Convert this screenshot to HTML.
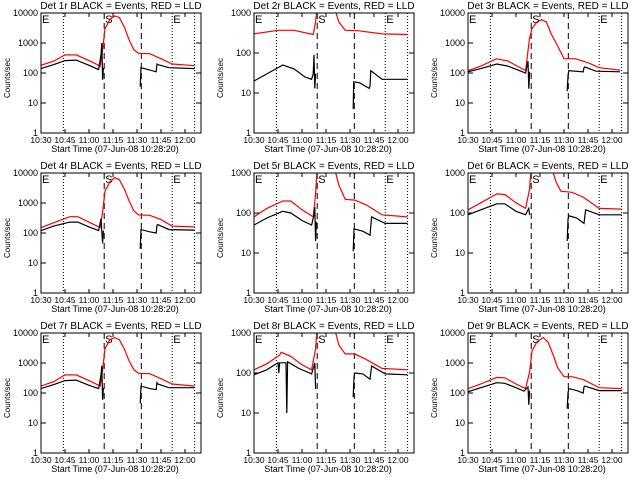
<!DOCTYPE html>
<html><head><meta charset="utf-8"><style>
html,body{margin:0;padding:0;background:#fff;}
svg{display:block;font-family:"Liberation Sans",sans-serif;}
</style></head><body>
<svg id="chart" width="640" height="480" viewBox="0 0 640 480"></svg>
<script>
// x in minutes after 10:30; y values counts/sec; null breaks line
const xTickLabels = ["10:30","10:45","11:00","11:15","11:30","11:45","12:00"];
const xTickMins = [0,15,30,45,60,75,90];
const dottedMins = [14,82,96];
const dashedMins = [39.5,62.7];
const detNames = ["1r","2r","3r","4r","5r","6r","7r","8r","9r"];
const topDecades = [4,3,4,4,3,3,4,3,4];

const red1T=[0,8,15,22,30,37,38.5,40,43,46,49,52,55,58,61,68,75,82,96];
const red1V=[180,250,400,400,260,170,600,3000,6000,8000,7000,3500,1300,600,450,440,300,200,175];
const blk1T=[0,8,15,22,30,36,37.5,38,38.5,39,null,62,62.5,68,72,72.5,73,80,96];
const blk1V=[140,190,260,270,180,130,400,1000,60,150,null,35,150,125,110,200,190,150,140];

const red2T=[0,15,25,37,38.5,39.5,null,50,53,57,65,80,96];
const red2V=[300,370,370,290,600,1500,null,1500,600,370,360,300,290];
const blk2T=[0,8,18,25,32,36,37,37.5,38,38.5,null,62,62.3,66,72,72.5,73,80,96];
const blk2V=[20,30,50,40,25,22,30,90,13,30,null,4,19,18,13,15,36,22,22];

const red3T=[0,8,18,25,36,38.5,40,43,46,49,52,56,60,67,75,82,95];
const red3V=[120,170,300,250,120,1500,3000,5000,6000,5000,2000,800,300,300,220,150,125];
const blk3T=[0,8,18,25,36,37.5,38,38.5,null,62,62.5,63,72,72.5,73,80,95];
const blk3V=[110,140,200,170,100,250,30,110,null,25,80,120,110,150,160,115,110];

const red4T=[0,8,18,23,30,37,38.5,40,43,46,49,52,55,58,61,68,75,82,96];
const red4V=[150,220,350,350,230,150,500,2500,5000,7000,6000,3000,1200,550,400,390,280,170,160];
const blk4T=[0,8,18,23,30,36,37.5,38.5,39,null,62,62.5,68,72,72.5,73,80,96];
const blk4V=[120,170,230,230,160,120,300,45,120,null,30,130,110,100,180,190,130,125];

const red5T=[0,8,18,23,30,37,38.5,39.5,null,50,53,57,63,70,80,96];
const red5V=[80,130,200,200,120,80,300,1500,null,1500,500,220,210,160,90,80];
const blk5T=[0,8,18,23,30,36,37.5,38,38.5,39,null,62,62.5,68,72.5,73.5,82,96];
const blk5V=[50,75,110,100,65,50,90,140,20,60,null,11,40,35,28,80,55,55];

const red6T=[0,8,18,23,30,36,38.5,39.5,null,52,55,58,65,72,82,96];
const red6V=[120,180,300,290,180,130,400,1500,null,1500,600,350,330,250,130,125];
const blk6T=[0,8,18,23,30,36,37.5,38,38.5,null,62,62.5,63,68,72.5,73.5,82,96];
const blk6V=[90,120,170,170,110,90,120,130,90,null,20,70,85,75,55,120,90,90];

const red7T=[0,8,15,22,30,37,38.5,40,43,46,49,52,55,58,61,68,75,82,96];
const red7V=[170,240,400,400,260,170,600,3000,6000,7000,6000,3000,1200,600,450,440,300,200,170];
const blk7T=[0,8,15,22,30,36,37.5,38,38.5,39,null,62,62.5,68,72,72.5,73,80,96];
const blk7V=[140,190,260,270,180,140,400,800,60,150,null,45,170,140,130,220,200,150,150];

const red8T=[0,8,16,17,23,30,36,38.5,39.5,null,50,53,57,63,70,80,96];
const red8V=[120,170,280,330,260,160,120,400,1500,null,1500,500,300,300,220,130,120];
const blk8T=[0,8,15,15.5,16,20,20.5,21,28,36,37.5,38,38.5,null,62,62.5,63,68,72.5,73.5,82,96];
const blk8V=[90,120,180,100,180,180,10,190,130,95,150,180,40,null,25,80,100,95,70,150,95,90];

const red9T=[0,8,18,23,30,36,38.5,40,43,47,50,53,56,60,65,72,82,96];
const red9V=[140,200,330,320,200,140,500,2500,5000,7000,5000,2000,700,350,350,280,150,140];
const blk9T=[0,8,18,23,30,35,37.5,38,38.5,null,62,62.5,63,68,72,72.5,73,82,96];
const blk9V=[110,150,220,210,150,115,160,40,120,null,30,100,140,120,100,160,170,120,120];

const redT=[red1T,red2T,red3T,red4T,red5T,red6T,red7T,red8T,red9T];
const redV=[red1V,red2V,red3V,red4V,red5V,red6V,red7V,red8V,red9V];
const blkT=[blk1T,blk2T,blk3T,blk4T,blk5T,blk6T,blk7T,blk8T,blk9T];
const blkV=[blk1V,blk2V,blk3V,blk4V,blk5V,blk6V,blk7V,blk8V,blk9V];

const NS="http://www.w3.org/2000/svg";
const svg=document.getElementById('chart');
function mk(tag,attrs,parent){const e=document.createElementNS(NS,tag);for(const k in attrs)e.setAttribute(k,attrs[k]);(parent||svg).appendChild(e);return e;}

const colLeft=[41,254,468], rowTop=[13,173,333];
const W=160,H=120,XMAX=100;

for(let p=0;p<9;p++){
  const c=p%3,r=Math.floor(p/3);
  const L=colLeft[c],T=rowTop[r],top=topDecades[p];
  const xs=m=>L+m/XMAX*W;
  const ys=v=>T+H-(Math.log10(v)/top)*H;
  const g=mk('g',{});
  
  
  const cid='clip'+p;
  const cp=mk('clipPath',{id:cid},g);mk('rect',{x:L,y:T,width:W,height:H},cp);
  const tt=mk('text',{x:L+W/2,y:T-4,'text-anchor':'middle','font-size':'10'},g);
  tt.textContent='Det '+detNames[p]+' BLACK = Events, RED = LLD';
  
  
  dottedMins.forEach(m=>mk('line',{x1:xs(m),x2:xs(m),y1:T,y2:T+H,stroke:'#000','stroke-dasharray':'1,2','stroke-width':'1'},g));
  dashedMins.forEach(m=>mk('line',{x1:xs(m),x2:xs(m),y1:T,y2:T+H,stroke:'#000','stroke-dasharray':'6,4','stroke-width':'1'},g));
  [[0,'E'],[dashedMins[0],'S'],[dottedMins[1],'E']].forEach(([m,s])=>{
    const t=mk('text',{x:xs(m)+1,y:T+10,'font-size':'11'},g);t.textContent=s;
    
    
  });
  [[redT[p],redV[p],'#f00','red-lld-line'],[blkT[p],blkV[p],'#000','black-events-line']].forEach(([ts,vs,col,nm])=>{
    let d='',pen=false;
    for(let i=0;i<ts.length;i++){
      if(ts[i]===null||vs[i]===null){pen=false;continue;}
      d+=(pen?'L':'M')+xs(ts[i]).toFixed(1)+' '+ys(vs[i]).toFixed(1);pen=true;
    }
    const pa=mk('path',{d:d,fill:'none',stroke:col,'stroke-width':'1.2','clip-path':'url(#'+cid+')'},g);
    
    
  });
  mk('rect',{x:L,y:T,width:W,height:H,fill:'none',stroke:'#000','stroke-width':'1'},g);
  for(let k=0;k<=top;k++){
    const y=T+H-k/top*H;
    mk('line',{x1:L,x2:L+5,y1:y,y2:y,stroke:'#000'},g);
    mk('line',{x1:L+W-5,x2:L+W,y1:y,y2:y,stroke:'#000'},g);
    const t=mk('text',{x:L-3,y:y+3,'text-anchor':'end','font-size':'9'},g);
    t.textContent=String(Math.pow(10,k));
    
    
  }
  xTickMins.forEach((m,i)=>{
    const x=xs(m);
    mk('line',{x1:x,x2:x,y1:T+H,y2:T+H-4,stroke:'#000'},g);
    mk('line',{x1:x,x2:x,y1:T,y2:T+4,stroke:'#000'},g);
    const t=mk('text',{x:x,y:T+H+10,'text-anchor':'middle','font-size':'8.5'},g);
    t.textContent=xTickLabels[i];
    
    
  });
  const xt=mk('text',{x:L+W/2-6,y:T+H+19,'text-anchor':'middle','font-size':'9'},g);
  xt.textContent='Start Time (07-Jun-08 10:28:20)';
  
  
  const yt=mk('text',{x:0,y:0,'text-anchor':'middle','font-size':'8',transform:'translate('+(L-31)+','+(T+H/2+5)+') rotate(-90)'},g);
  yt.textContent='Counts/sec';
  
  
}
</script>
</body></html>
